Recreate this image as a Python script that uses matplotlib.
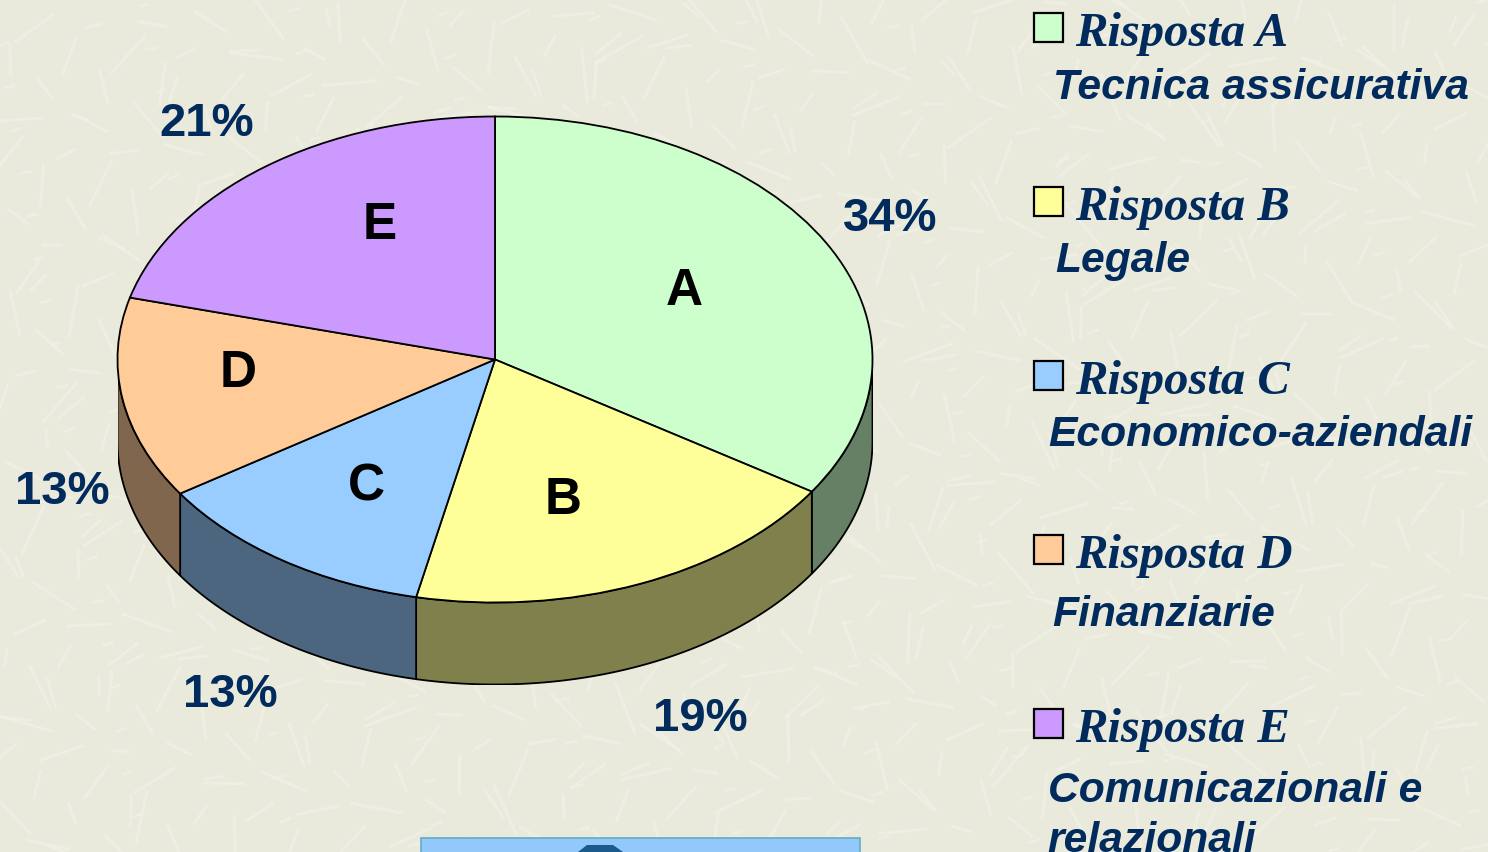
#!/usr/bin/env python3
import numpy as np
import matplotlib
matplotlib.use("Agg")
import matplotlib.pyplot as plt
from matplotlib.collections import LineCollection
from matplotlib.patches import Rectangle, Polygon

W, H = 1488, 853

letters = ["A", "B", "C", "D", "E"]
shares = [34.15, 19.2, 12.35, 13.4, 20.9]  # slice sizes
pct_labels = ["34%", "19%", "13%", "13%", "21%"]
top_colors = ["#CCFFCC", "#FFFF99", "#99CCFF", "#FFCC99", "#CC99FF"]
side_colors = ["#668066", "#80804D", "#4D6680", "#80664D", "#664D80"]
legend_titles = ["Risposta A", "Risposta B", "Risposta C", "Risposta D", "Risposta E"]
legend_subs = ["Tecnica assicurativa", "Legale", "Economico-aziendali",
               "Finanziarie", "Comunicazionali e", "relazionali"]

NAVY = "#002B5C"
BG = "#E9E9DC"
CX, CY, RX, RY, DEPTH = 495, 360.5, 377.5, 243, 82

fig = plt.figure(figsize=(W / 100, H / 100), dpi=100, facecolor=BG)

# background paper texture, fixed sequence so every run gives the same picture
bg = fig.add_axes([0, 0, 1, 1], zorder=0)
bg.set_xlim(0, W)
bg.set_ylim(H, 0)
bg.axis("off")
n = 800
idx = np.arange(1, n + 1)
xs = (idx * 0.61803399) % 1 * W
ys = (idx * 0.75487767) % 1 * H
ang = (idx * 0.56984029) % 1 * np.pi
lens = 18 + ((idx * 0.41421356) % 1) * 38
segs = [[(x - l / 2 * np.cos(a), y - l / 2 * np.sin(a)),
         (x + l / 2 * np.cos(a), y + l / 2 * np.sin(a))]
        for x, y, a, l in zip(xs, ys, ang, lens)]
bg.add_collection(LineCollection(segs, colors="#F3F3E8", linewidths=2.2, alpha=0.5))
bg.scatter((idx * 0.3819) % 1 * W, (idx * 0.8191) % 1 * H, s=6, c="#F3F3E8", alpha=0.5, linewidths=0)

# pie axes: data unit is one radius, extra room below for the wall
depth_u = DEPTH / RY
left, right = (CX - RX) / W, 2 * RX / W
bottom = (H - (CY + RY + DEPTH)) / H
height = (2 * RY + DEPTH) / H
ax = fig.add_axes([left, bottom, right, height], zorder=1)
ax.patch.set_alpha(0)
wedges, _ = ax.pie(shares, colors=top_colors, startangle=90, counterclock=False, radius=1,
                   wedgeprops=dict(edgecolor="black", linewidth=1.3, zorder=3))
ax.set_aspect("auto")
ax.set_xlim(-1, 1)
ax.set_ylim(-1 - depth_u, 1)

for w, col in zip(wedges, side_colors):
    lo, hi = max(w.theta1, -180), min(w.theta2, 0)
    if lo >= hi:
        continue
    t = np.radians(np.linspace(lo, hi, 120))
    upper = np.column_stack([np.cos(t), np.sin(t)])
    lower = upper[::-1] - [0, depth_u]
    ax.add_patch(Polygon(np.vstack([upper, lower]), closed=True, facecolor=col,
                         edgecolor="black", linewidth=1.3, zorder=2))

# labels in pixel coordinates
top = fig.add_axes([0, 0, 1, 1], zorder=2)
top.set_xlim(0, W)
top.set_ylim(H, 0)
top.axis("off")

pct_pos = [(890, 219), (700, 719), (230, 695), (62, 492), (207, 124)]
for s, (x, y) in zip(pct_labels, pct_pos):
    top.text(x, y, s, fontsize=34, fontweight="bold", color=NAVY,
             family="Liberation Sans", ha="center", va="center")

letter_pos = [(684, 291), (563, 501), (366, 487), (238, 373), (380, 225)]
for s, (x, y) in zip(letters, letter_pos):
    top.text(x, y, s, fontsize=37, fontweight="bold", color="black",
             family="Liberation Sans", ha="center", va="center")

title_y = [30, 204, 378, 552, 726]
for name, col, y in zip(legend_titles, top_colors, title_y):
    top.add_patch(Rectangle((1033.5, y - 16), 29, 29, facecolor=col, edgecolor="black", linewidth=1.6))
    top.text(1075, y + 16, name, fontsize=35, fontweight="bold", style="italic", color=NAVY,
             family="Liberation Serif", ha="left", va="baseline")

sub_pos = [(1053, 99), (1055, 272), (1048, 446), (1052, 626), (1048, 802), (1047, 852)]
for s, (x, y) in zip(legend_subs, sub_pos):
    top.text(x, y, s, fontsize=30.7, fontweight="bold", style="italic", color=NAVY,
             family="Liberation Sans", ha="left", va="baseline")

# bit of the button at the bottom edge
top.add_patch(Rectangle((420.5, 838.5), 439, 20, facecolor="#93C8FB", edgecolor="#5FAFC4", linewidth=1.2))
top.add_patch(Polygon([(578, 853), (587, 846), (613, 846), (623, 853)], closed=True,
                      facecolor="#1B5A8C", edgecolor="none"))

fig.savefig("out.png", dpi=100, facecolor=BG)
